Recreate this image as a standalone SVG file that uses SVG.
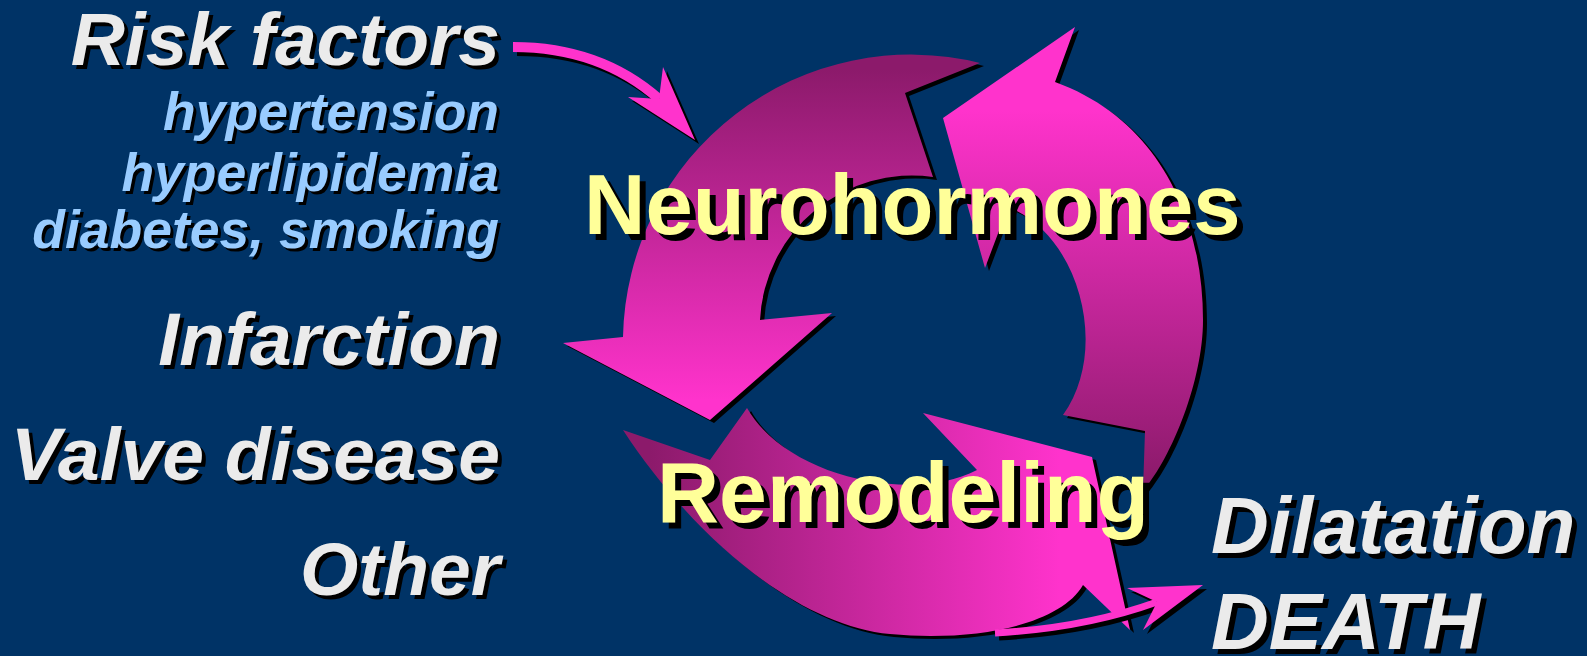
<svg xmlns="http://www.w3.org/2000/svg" width="1587" height="656" viewBox="0 0 1587 656">
<defs>
<linearGradient id="g1" gradientUnits="userSpaceOnUse" x1="0" y1="70" x2="0" y2="400"><stop offset="0" stop-color="#8c1a6b"/><stop offset="1" stop-color="#ff33cc"/></linearGradient>
<linearGradient id="g2" gradientUnits="userSpaceOnUse" x1="0" y1="110" x2="0" y2="480"><stop offset="0" stop-color="#ff33cc"/><stop offset="1" stop-color="#8c1a6b"/></linearGradient>
<linearGradient id="g3" gradientUnits="userSpaceOnUse" x1="650" y1="0" x2="1060" y2="0"><stop offset="0" stop-color="#8c1a6b"/><stop offset="1" stop-color="#ff33cc"/></linearGradient>
<path id="a1" d="M980,63 A288,288 0 0 0 623,337 L563,343 L710,420 L832,313 L760,320 A152,152 0 0 1 933,177 L905,93 Z"/>
<path id="a2" d="M1063,415 L1145,431 L1143,491 C1172,457 1203,380 1203,320 C1203,220 1160,120 1055,82 L1075,27 L943,118 L985,268 L1008,207 C1080,235 1110,350 1063,415 Z"/>
<path id="a3" d="M623,430 L710,460 L747,408 C785,475 910,505 977,470 L923,413 L1092,457 L1130,630 L1083,585 C1060,625 975,642 890,634 C800,626 695,540 623,430 Z"/>
</defs>
<style>
.t{font-family:"Liberation Sans",Arial,sans-serif;font-weight:bold}
.it{font-style:italic}
.w{fill:#ebebeb}
.b{fill:#99ccff}
.y{fill:#ffff99}
.sh{fill:#000}
.shaft{fill:none;stroke:#ff33cc;stroke-width:10}
.shaftsh{fill:none;stroke:#000;stroke-width:10}
.head{fill:#ff33cc}
</style>
<rect x="0" y="0" width="1587" height="656" fill="#003366"/>

<g id="cycle-arrow-left">
<use href="#a1" transform="translate(4,3)" fill="#000"/>
<use href="#a1" fill="url(#g1)"/>
</g>
<g id="cycle-arrow-right">
<use href="#a2" transform="translate(4,3)" fill="#000"/>
<use href="#a2" fill="url(#g2)"/>
</g>
<g id="cycle-arrow-bottom">
<use href="#a3" transform="translate(4,3)" fill="#000"/>
<use href="#a3" fill="url(#g3)"/>
</g>

<g id="connectors">
<g id="risk-arrow">
<path class="shaftsh" d="M513,47 Q600,47 659,99" transform="translate(4,4)"/>
<polygon class="sh" points="628,97 659,99 663,67 695,140" transform="translate(4,4)"/>
<path class="shaft" d="M513,47 Q600,47 659,99"/>
<polygon class="head" points="628,97 659,99 663,67 695,140"/>
</g>
<g id="dilatation-arrow">
<path class="shaftsh" style="stroke-width:7" d="M995,633 Q1085,628 1157,602" transform="translate(4,4)"/>
<polygon class="sh" points="1127,588 1203,585 1143,630 1157,602" transform="translate(4,4)"/>
<path class="shaft" style="stroke-width:7" d="M995,633 Q1085,628 1157,602"/>
<polygon class="head" points="1127,588 1203,585 1143,630 1157,602"/>
</g>
</g>

<g id="risk-factors" class="t it" text-anchor="end" font-size="75">
<text class="sh" x="504" y="69">Risk factors</text>
<text class="w" x="500" y="65">Risk factors</text>
</g>
<g id="risk-list" class="t it" text-anchor="end" font-size="53.5">
<text class="sh" x="502" y="133">hypertension</text>
<text class="b" x="499" y="130">hypertension</text>
<text class="sh" x="502" y="194">hyperlipidemia</text>
<text class="b" x="499" y="191">hyperlipidemia</text>
<text class="sh" x="502" y="251">diabetes, smoking</text>
<text class="b" x="499" y="248">diabetes, smoking</text>
</g>
<g id="infarction" class="t it" text-anchor="end" font-size="75">
<text class="sh" x="504" y="369">Infarction</text>
<text class="w" x="500" y="365">Infarction</text>
</g>
<g id="valve-disease" class="t it" text-anchor="end" font-size="75">
<text class="sh" x="504" y="484">Valve disease</text>
<text class="w" x="500" y="480">Valve disease</text>
</g>
<g id="other" class="t it" text-anchor="end" font-size="75">
<text class="sh" x="504" y="599">Other</text>
<text class="w" x="500" y="595">Other</text>
</g>
<g id="outcome" class="t it" font-size="80">
<text class="sh" x="1216" y="558">Dilatation</text>
<text class="w" x="1211" y="553">Dilatation</text>
<text class="sh" x="1216" y="654">DEATH</text>
<text class="w" x="1211" y="649">DEATH</text>
</g>
<g id="neurohormones" class="t" font-size="85">
<text class="sh" x="590" y="240">Neurohormones</text>
<text class="y" x="584" y="234">Neurohormones</text>
</g>
<g id="remodeling" class="t" font-size="86">
<text class="sh" x="663" y="528">Remodeling</text>
<text class="y" x="657" y="522">Remodeling</text>
</g>
</svg>
